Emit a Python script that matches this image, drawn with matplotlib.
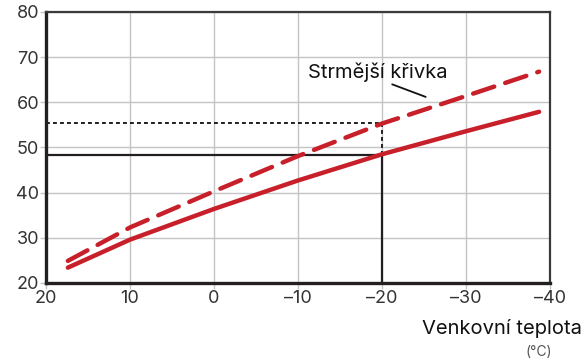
import matplotlib.pyplot as plt

plt.rcParams["font.family"] = ["Inter", "DejaVu Sans"]

# %% data
outdoor = [17.4, 10, 0, -10, -20, -30, -38.7]
flow_normal = [23.4, 29.6, 36.4, 42.7, 48.5, 53.6, 57.9]
flow_steep = [24.9, 32.3, 40.3, 48.1, 55.3, 61.4, 66.8]

x_ticks = [20, 10, 0, -10, -20, -30, -40]
x_labels = ["20", "10", "0", "\u201310", "\u201320", "\u201330", "\u201340"]
y_ticks = [20, 30, 40, 50, 60, 70, 80]

ref_temp = -20
ref_normal = 48.4
ref_steep = 55.5

red = "#c8202a"
dark = "#231f20"

# %% plot
fig = plt.figure(figsize=(5.84, 3.59), dpi=100)
ax = fig.add_axes([0.0788, 0.2117, 0.8630, 0.7549])

ax.plot(outdoor, flow_normal, color=red, lw=3.2, solid_capstyle="round",
        solid_joinstyle="round", zorder=4)
ax.plot(outdoor, flow_steep, color=red, lw=3.2, dashes=(5, 2.6),
        dash_capstyle="round", dash_joinstyle="round", zorder=4)

# reference lines at -20 °C
ax.plot([20, ref_temp, ref_temp], [ref_normal, ref_normal, 20], color=dark, lw=1.6, zorder=3)
ax.plot([20, ref_temp, ref_temp], [ref_steep, ref_steep, ref_normal], color=dark,
        lw=1.4, dashes=(2, 1.6), zorder=3)

ax.annotate("Strmější křivka", xy=(-25.2, 61.2), xytext=(-19.5, 64.6),
            fontsize=14.5, color="#111111", ha="center", va="bottom",
            arrowprops=dict(arrowstyle="-", color="#111111", lw=1.3, shrinkA=0, shrinkB=0,
                            relpos=(0.55, 0)))

ax.set_xlim(20, -40)
ax.set_ylim(20, 80)
ax.set_xticks(x_ticks)
ax.set_xticklabels(x_labels)
ax.set_yticks(y_ticks)
ax.grid(color="#c4c4c4", lw=1)
ax.set_axisbelow(True)
ax.tick_params(labelsize=13, colors="#c4c4c4", labelcolor="#333333", length=4, width=1, pad=1)

for side in ["left", "bottom"]:
    ax.spines[side].set_linewidth(2.4)
    ax.spines[side].set_color(dark)
for side in ["top", "right"]:
    ax.spines[side].set_linewidth(1.6)
    ax.spines[side].set_color("#3a3a3a")

fig.text(0.997, 0.085, "Venkovní teplota", ha="right", va="center", fontsize=14.5, color="#111111")
fig.text(0.945, 0.02, "(°C)", ha="right", va="center", fontsize=10, color="#555555")

fig.savefig("out.png", dpi=100)
